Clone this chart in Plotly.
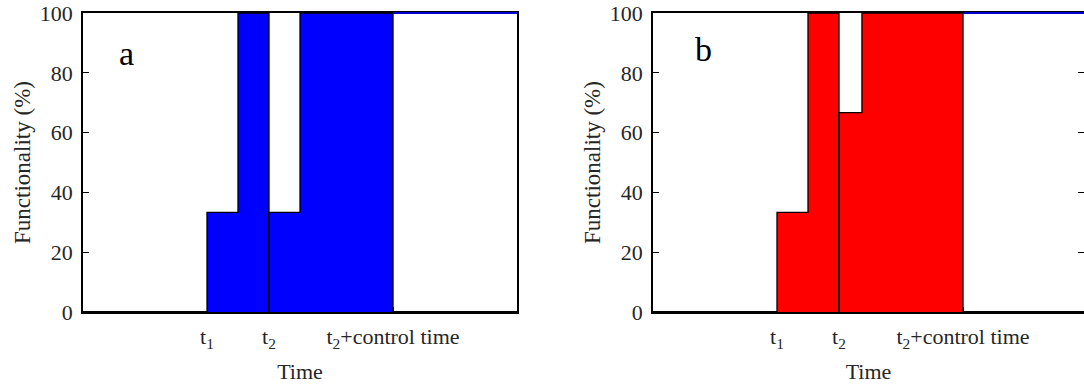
import plotly.graph_objects as go

# ---- data ----
# breakpoints on the time axis (t1 = 2, t2 = 3, t2 + control time = 5)
time_a = [0, 2, 2.5, 3, 3.5, 5, 7]
time_b = [0, 2, 2.5, 3, 3.37, 5, 7]
# functionality level (%) on each interval between breakpoints
func_a = [0, 33.3, 100, 33.3, 100, 0]
func_b = [0, 33.3, 100, 66.7, 100, 0]
t1, t2, t_ctrl = 2, 3, 5
tick_vals = [t1, t2, t_ctrl]
tick_text = ["t<sub>1</sub>", "t<sub>2</sub>", "t<sub>2</sub>+control time"]
y_ticks = [0, 20, 40, 60, 80, 100]
target_level = 100
panel_labels = ["a", "b"]
fill_colors = ["#0000FF", "#FF0000"]

W, H = 1084, 389
L1, R1 = 83, 517
L2 = 653
PW = R1 - L1
TOP, BOT = 13, 312
XMAX = 7

FONT = "Liberation Serif"
TXT = "#262626"
FS = 22

fig = go.Figure()


def patch(times, levels, start, end):
    xs, ys = [times[start]], [0]
    for i in range(start, end):
        xs += [times[i], times[i + 1]]
        ys += [levels[i], levels[i]]
    xs.append(times[end])
    ys.append(0)
    return xs, ys


for k, (times, levels) in enumerate([(time_a, func_a), (time_b, func_b)]):
    xa = "x" if k == 0 else "x2"
    ya = "y" if k == 0 else "y2"
    i1 = times.index(t1)
    i2 = times.index(t2)
    i3 = times.index(t_ctrl)
    for s, e in [(i1, i2), (i2, i3)]:
        xs, ys = patch(times, levels, s, e)
        fig.add_trace(go.Scatter(x=xs, y=ys, mode="lines", fill="toself",
                                 fillcolor=fill_colors[k],
                                 line=dict(color="black", width=1.3),
                                 xaxis=xa, yaxis=ya, showlegend=False,
                                 hoverinfo="skip"))
    # zero baseline outside the disruption
    for s, e in [(0, i1), (i3, len(times) - 1)]:
        fig.add_trace(go.Scatter(x=[times[s], times[e]], y=[0, 0], mode="lines",
                                 line=dict(color="black", width=2.2),
                                 xaxis=xa, yaxis=ya, showlegend=False,
                                 hoverinfo="skip"))
    # target line after control time (at the top of the y range, drawn over the frame)
    fig.add_shape(type="line", xref=xa, yref=ya + " domain", x0=t_ctrl, x1=times[-1],
                  y0=target_level / 100, y1=target_level / 100, layer="above",
                  line=dict(color="#0000CC", width=2))

ydom = [1 - BOT / H, 1 - TOP / H]
xr2 = XMAX * (W - L2) / PW

common_x = dict(showgrid=False, zeroline=False, showline=True, linecolor="black",
                linewidth=1.5, mirror=True, ticks="inside", ticklen=5,
                tickcolor="black", tickvals=tick_vals, ticktext=tick_text,
                tickfont=dict(family=FONT, size=FS, color=TXT),
                ticklabelstandoff=4, automargin=False, layer="below traces",
                title=dict(text="Time", font=dict(family=FONT, size=FS, color=TXT),
                           standoff=13))
common_y = dict(showgrid=False, zeroline=False, showline=True, linecolor="black",
                linewidth=1.5, ticks="inside", ticklen=6,
                tickcolor="black", range=[0, 100], tickvals=y_ticks,
                tickfont=dict(family=FONT, size=FS, color=TXT),
                ticklabelstandoff=4, domain=ydom, automargin=False,
                layer="below traces",
                title=dict(text="Functionality (%)",
                           font=dict(family=FONT, size=23, color=TXT), standoff=3))

fig.update_layout(
    width=W, height=H, margin=dict(l=0, r=0, t=0, b=0, autoexpand=False),
    paper_bgcolor="white", plot_bgcolor="white",
    xaxis=dict(common_x, domain=[L1 / W, R1 / W], range=[0, XMAX], anchor="y"),
    yaxis=dict(common_y, mirror=True, anchor="x"),
    xaxis2=dict(common_x, domain=[L2 / W, 1.0], range=[0, xr2], anchor="y2"),
    yaxis2=dict(common_y, mirror="ticks", anchor="x2"),
)

label_px = [(126, 53), (703, 50)]
for lab, (px, py) in zip(panel_labels, label_px):
    fig.add_annotation(text=lab, x=px / W, y=1 - py / H, xref="paper", yref="paper",
                       showarrow=False, font=dict(family=FONT, size=34, color="black"),
                       xanchor="center", yanchor="middle")

fig.write_html("out.html")
